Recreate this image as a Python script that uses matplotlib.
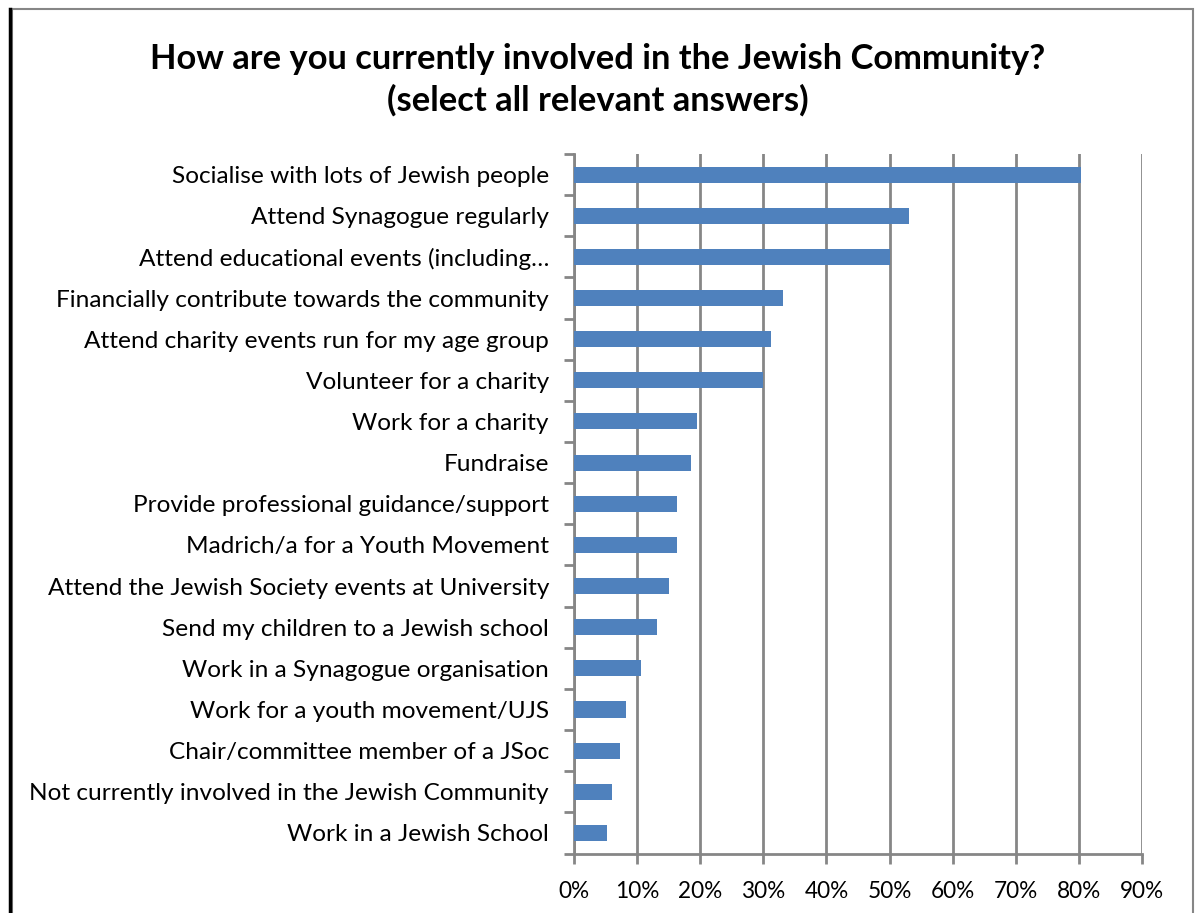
import matplotlib
matplotlib.use("Agg")
import matplotlib.pyplot as plt
from matplotlib.ticker import FuncFormatter
from matplotlib.patches import Rectangle
from matplotlib.lines import Line2D

categories = [
    "Socialise with lots of Jewish people",
    "Attend Synagogue regularly",
    "Attend educational events (including…",
    "Financially contribute towards the community",
    "Attend charity events run for my age group",
    "Volunteer for a charity",
    "Work for a charity",
    "Fundraise",
    "Provide professional guidance/support",
    "Madrich/a for a Youth Movement",
    "Attend the Jewish Society events at University",
    "Send my children to a Jewish school",
    "Work in a Synagogue organisation",
    "Work for a youth movement/UJS",
    "Chair/committee member of a JSoc",
    "Not currently involved in the Jewish Community",
    "Work in a Jewish School",
]
values = [80.3, 53.1, 50.0, 33.1, 31.2, 30.0, 19.5, 18.5, 16.3, 16.3,
          15.0, 13.1, 10.6, 8.3, 7.3, 6.0, 5.3]
x_ticks = [0, 10, 20, 30, 40, 50, 60, 70, 80, 90]
title = "How are you currently involved in the Jewish Community?\n(select all relevant answers)"

plt.rcParams["font.family"] = ["Lato", "DejaVu Sans"]

W, H = 1195, 913
fig = plt.figure(figsize=(W / 100, H / 100), dpi=100)
ax = fig.add_axes([574 / W, 1 - 853.5 / H, (1142 - 574) / W, (853.5 - 154) / H])

grid_c = "#868686"
bar_c = "#4F81BD"

n = len(categories)
ypos = list(range(n))
ax.barh(ypos, values, height=0.39, color=bar_c, zorder=3)
ax.set_ylim(n - 0.5, -0.5)
ax.set_xlim(0, 90)
ax.set_xticks(x_ticks)
ax.xaxis.set_major_formatter(FuncFormatter(lambda v, p: f"{int(round(v))}%"))
ax.set_yticks(ypos)
ax.set_yticklabels(categories)
ax.set_yticks([i - 0.5 for i in range(n + 1)], minor=True)

ax.grid(axis="x", color=grid_c, linewidth=2, zorder=0)
for s in ["top", "right"]:
    ax.spines[s].set_visible(False)
for s in ["left", "bottom"]:
    ax.spines[s].set_color(grid_c)
    ax.spines[s].set_linewidth(2)

ax.tick_params(axis="y", which="major", length=0, pad=18, labelsize=17.6, labelcolor="black")
ax.tick_params(axis="y", which="minor", length=7, width=2, color=grid_c)
ax.tick_params(axis="x", which="major", length=7, width=2, color=grid_c, pad=13,
               labelsize=16.3, labelcolor="black")

fig.text(0.5, 1 - 80 / H, title, ha="center", va="center", fontsize=24.8,
         fontweight="bold", linespacing=1.32)

# chart frame
fig.add_artist(Rectangle((12 / W, -0.01), (1193 - 12) / W, 1 - 9 / H + 0.01,
                         transform=fig.transFigure, fill=False,
                         edgecolor=grid_c, linewidth=1.5))
fig.add_artist(Line2D([9.5 / W, 9.5 / W], [0, 1 - 9 / H],
                      transform=fig.transFigure, color="black", linewidth=2.5))

fig.savefig("out.png", dpi=100)
